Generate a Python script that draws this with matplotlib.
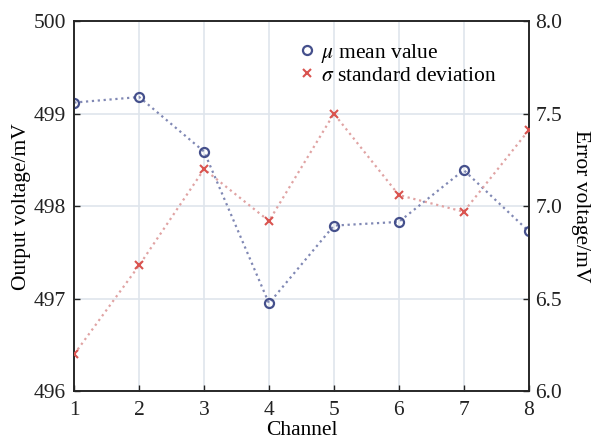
import matplotlib
matplotlib.use("Agg")
from matplotlib import pyplot as plt

# 数据
channels = [1, 2, 3, 4, 5, 6, 7, 8]
mean_mv = [499.12, 499.18, 498.59, 496.95, 497.79, 497.83, 498.39, 497.73]
std_mv = [6.20, 6.68, 7.20, 6.92, 7.50, 7.06, 6.97, 7.41]

left_ticks = [496, 497, 498, 499, 500]
right_ticks = [6.0, 6.5, 7.0, 7.5, 8.0]

plt.rcParams['font.family'] = ['Liberation Serif', 'DejaVu Serif']
plt.rcParams['mathtext.fontset'] = 'stix'
fs = 15.5

fig = plt.figure(figsize=(5.94, 4.41), dpi=100)
ax = fig.add_axes([0.125, 0.113, 0.765, 0.839])
ax2 = ax.twinx()

l1, = ax.plot(channels, mean_mv, linestyle=':', color='#8088b4', linewidth=1.6,
              marker='o', markersize=6.5, markerfacecolor='none',
              markeredgecolor='#45508c', markeredgewidth=1.6, zorder=3)
l2, = ax2.plot(channels, std_mv, linestyle=':', color='#e0a3a3', linewidth=1.6,
               marker='x', markersize=6, markeredgecolor='#d9534f',
               markeredgewidth=1.5, zorder=3)

ax.set_xlim(1, 8)
ax.set_ylim(496, 500)
ax2.set_ylim(6, 8)
ax.set_xticks(channels)
ax.set_yticks(left_ticks)
ax2.set_yticks(right_ticks)
ax2.set_yticklabels(["%.1f" % t for t in right_ticks])

ax.grid(True, color='#dfe5ec', linewidth=1.2)
ax.set_axisbelow(True)

for a in (ax, ax2):
    a.tick_params(direction='in', labelsize=fs, length=4, width=1, colors='#222222')
    for s in a.spines.values():
        s.set_color('#222222')
        s.set_linewidth(1.1)
ax.tick_params(axis='x', pad=7)
ax.tick_params(axis='y', pad=6)
ax2.tick_params(axis='y', pad=5)

ax.set_xlabel("Channel", fontsize=fs, labelpad=1)
ax.set_ylabel("Output voltage/mV", fontsize=fs, labelpad=2)
ax2.set_ylabel("Error voltage/mV", fontsize=fs, rotation=270, labelpad=20)

ax.legend([l1, l2], [r"$\mu$ mean value", r"$\sigma$ standard deviation"],
          loc='upper left', bbox_to_anchor=(0.46, 0.985), frameon=False,
          fontsize=fs, handlelength=0.8, handletextpad=0.25, labelspacing=0.05,
          borderpad=0.2)
# 图例只显示标记，不画线
for h in ax.get_legend().legend_handles:
    h.set_linestyle('none')

fig.savefig("out.png", dpi=100)
